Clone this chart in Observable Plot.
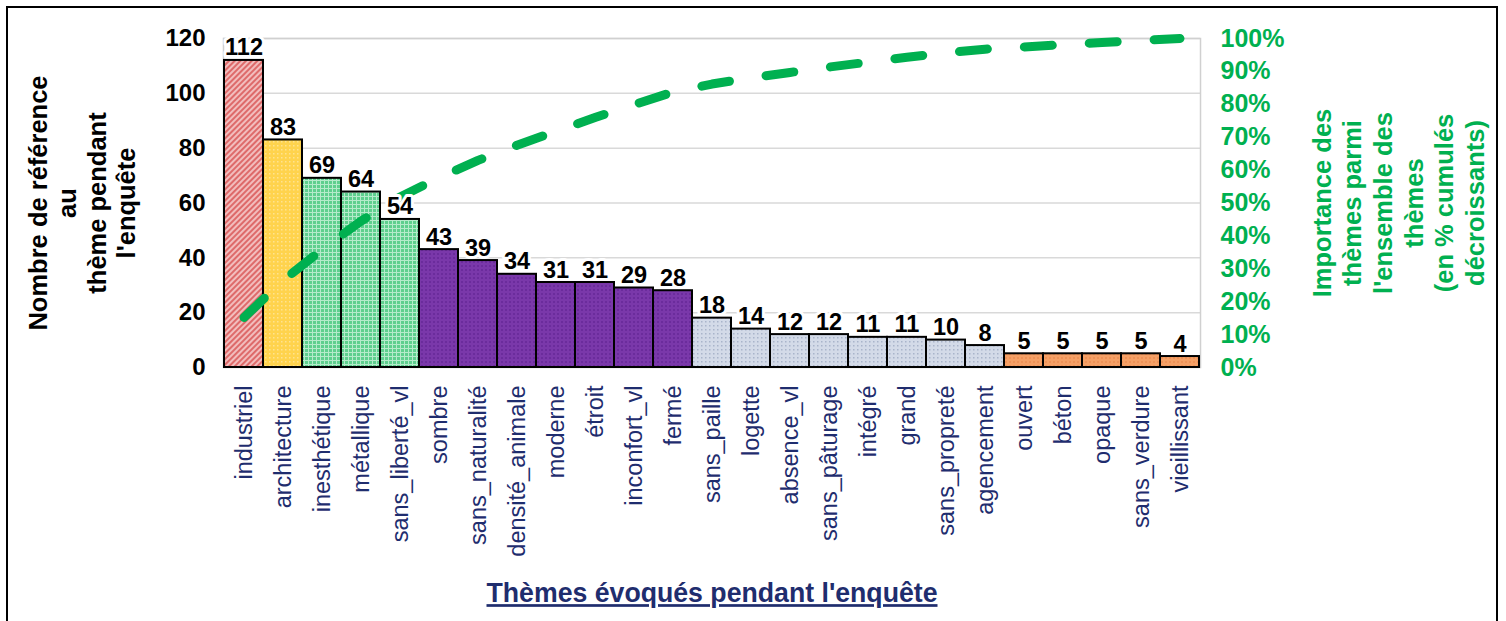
<!DOCTYPE html>
<html>
<head>
<meta charset="utf-8">
<script src="https://cdn.jsdelivr.net/npm/d3@7"></script>
<script src="https://cdn.jsdelivr.net/npm/@observablehq/plot@0.6"></script>
<style>
  html, body { margin: 0; padding: 0; background: #fff; }
  #wrap { position: relative; width: 1506px; height: 621px; overflow: hidden; }
  #border { position: absolute; left: 6px; top: 6px; width: 1492px; height: 700px; border: 2px solid #000; box-sizing: border-box; }
  #chart { position: absolute; left: 0; top: 0; }
</style>
</head>
<body>
<div id="wrap"><div id="border"></div><div id="chart"></div></div>
<script>
// ---- data ----
const categories = ["industriel","architecture","inesthétique","métallique","sans_liberté_vl","sombre","sans_naturalité","densité_animale","moderne","étroit","inconfort_vl","fermé","sans_paille","logette","absence_vl","sans_pâturage","intégré","grand","sans_propreté","agencement","ouvert","béton","opaque","sans_verdure","vieillissant"];
const counts = [112,83,69,64,54,43,39,34,31,31,29,28,18,14,12,12,11,11,10,8,5,5,5,5,4];
const groups = [0,1,2,2,2,3,3,3,3,3,3,3,4,4,4,4,4,4,4,4,5,5,5,5,5];
const leftTicks = [0,20,40,60,80,100,120];
const pctTicks = [0,10,20,30,40,50,60,70,80,90,100];
const xTitle = "Thèmes évoqués pendant l'enquête";
const yTitle = "Nombre de référence\nau\nthème pendant\nl'enquête";
const y2Title = "Importance des\nthèmes parmi\nl'ensemble des\nthèmes\n(en % cumulés\ndécroissants)";

// cumulative share (Pareto), derived from counts
const total = d3.sum(counts);
const cum = d3.cumsum(counts);
const rows = categories.map((c, i) => ({cat: c, n: counts[i], g: groups[i], pct: cum[i] / total * 100}));

const k = 120 / 100; // 100 % on right axis == 120 on left axis
const navy = "#1F2D6E";
const green = "#00B050";

const svg = Plot.plot({
  width: 1506,
  height: 621,
  marginLeft: 223,
  marginRight: 306,
  marginTop: 38,
  marginBottom: 254,
  style: {fontFamily: "'Liberation Sans', Arial, sans-serif", background: "transparent", overflow: "visible"},
  x: {domain: categories, padding: 0, axis: null},
  y: {domain: [0, 120], axis: null},
  color: {type: "ordinal", domain: [0,1,2,3,4,5], range: ["url(#p0)","url(#p1)","url(#p2)","url(#p3)","url(#p4)","url(#p5)"]},
  marks: [
    Plot.gridY(leftTicks.slice(1), {stroke: "#d9d9d9", strokeOpacity: 1, strokeWidth: 1.5}),
    Plot.frame({stroke: "#d0d0d0", strokeWidth: 1.5}),
    Plot.barY(rows, {x: "cat", y: "n", fill: "g", stroke: "#000", strokeWidth: 2}),
    Plot.line(rows, {x: "cat", y: d => d.pct * k, stroke: green, strokeWidth: 9, strokeDasharray: "28,37", strokeLinecap: "round"}),
    Plot.text(rows, {x: "cat", y: "n", text: d => String(d.n), dy: -5, lineAnchor: "bottom", fontSize: 23.5, fontWeight: "bold", fill: "#000", stroke: "#fff", strokeWidth: 6, paintOrder: "stroke"}),
    Plot.axisY(leftTicks, {anchor: "left", tickSize: 0, tickPadding: 18, fontSize: 24, fontWeight: "bold", color: "#000", label: null}),
    Plot.axisY(pctTicks.map(p => p * k), {anchor: "right", tickSize: 0, tickPadding: 20, fontSize: 25, fontWeight: "bold", color: green, textAnchor: "start", tickFormat: d => Math.round(d / k) + "%", label: null}),
    Plot.axisX({tickRotate: -90, tickSize: 0, tickPadding: 18, fontSize: 23.5, color: navy, label: null}),
    Plot.text([yTitle], {frameAnchor: "left", dx: -142, rotate: -90, text: d => d, textAnchor: "middle", lineAnchor: "middle", lineHeight: 1.16, fontSize: 25.5, fontWeight: "bold", fill: "#000"}),
    Plot.text([y2Title], {frameAnchor: "right", dx: 197, rotate: -90, text: d => d, textAnchor: "middle", lineAnchor: "middle", lineHeight: 1.2, fontSize: 25.5, fontWeight: "bold", fill: green}),
    Plot.text([xTitle], {frameAnchor: "bottom", dy: 226, text: d => d, textAnchor: "middle", lineAnchor: "middle", fontSize: 27, fontWeight: "bold", fill: navy})
  ]
});

// patterns
const defs = d3.select(svg).insert("defs", ":first-child");
function pat(id, bg, draw, rot) {
  const p = defs.append("pattern").attr("id", id).attr("patternUnits", "userSpaceOnUse").attr("width", 4).attr("height", 4);
  if (rot) p.attr("patternTransform", "rotate(" + rot + ")");
  p.append("rect").attr("width", 4).attr("height", 4).attr("fill", bg);
  draw(p);
}
pat("p0", "#F2BDBD", p => p.append("rect").attr("width", 2).attr("height", 4).attr("fill", "#DE6A6A"), 45);
pat("p1", "#FFD34D", p => p.append("rect").attr("x", 1).attr("y", 1).attr("width", 1.5).attr("height", 1.5).attr("fill", "#FFE390"));
pat("p2", "#5ECF8E", p => { p.append("rect").attr("width", 4).attr("height", 1).attr("fill", "#B5EBCB"); p.append("rect").attr("width", 1).attr("height", 4).attr("fill", "#B5EBCB"); });
pat("p3", "#7A38AA", p => p.append("rect").attr("x", 1).attr("y", 1).attr("width", 2).attr("height", 2).attr("fill", "#6B2C9C"));
pat("p4", "#D3DAE8", p => p.append("rect").attr("x", 1).attr("y", 1).attr("width", 1.5).attr("height", 1.5).attr("fill", "#A9B4CA"));
pat("p5", "#F5A066", p => p.append("rect").attr("x", 1).attr("y", 1).attr("width", 2).attr("height", 2).attr("fill", "#EE9258"));

// underline + condensed look for the x title
d3.select(svg).selectAll("text").filter(function() { return this.textContent === xTitle; })
  .attr("text-decoration", "underline")
  .attr("textLength", 451)
  .attr("lengthAdjust", "spacingAndGlyphs");

document.getElementById("chart").appendChild(svg);
</script>
</body>
</html>
